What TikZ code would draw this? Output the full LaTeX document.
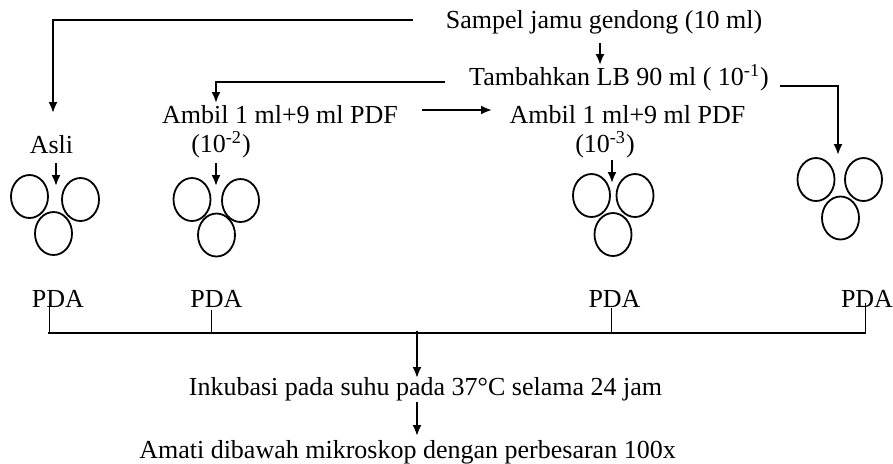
\documentclass[tikz,border=0pt]{standalone}
\usepackage{fontspec}
\setmainfont{Liberation Serif}
\usetikzlibrary{arrows.meta,shapes.geometric}
\begin{document}
\begin{tikzpicture}[x=0.5pt,y=-0.5pt,
  txt/.style={anchor=base,inner sep=0pt,font=\fontsize{13}{15.6}\selectfont},
  line/.style={line width=1pt},
  arr/.style={line width=1pt,-{Latex[length=5.5pt,width=4.5pt]}},
  tick/.style={line width=0.5pt},
  plate/.style={draw,ellipse,line width=0.9pt,inner sep=0pt,minimum width=18.5pt,minimum height=21.5pt}]
\useasboundingbox (0,0) rectangle (893,463);
% texts
\node[txt] (sampel) at (604,28) {Sampel jamu gendong (10 ml)};
\node[txt] (tamb) at (619,85) {Tambahkan LB 90 ml ( 10\textsuperscript{-1})};
\node[txt] (amb1) at (280,123) {Ambil 1 ml+9 ml PDF};
\node[txt] (d2) at (221,152) {(10\textsuperscript{-2})};
\node[txt] (amb2) at (627.5,123) {Ambil 1 ml+9 ml PDF};
\node[txt] (d3) at (605,152) {(10\textsuperscript{-3})};
\node[txt] (asli) at (51.5,153) {Asli};
\node[txt] (pda1) at (58,307) {PDA};
\node[txt] (pda2) at (216.5,307) {PDA};
\node[txt] (pda3) at (614.5,307) {PDA};
\node[txt] (pda4) at (867,307) {PDA};
\node[txt] (inku) at (425.5,395) {Inkubasi pada suhu pada 37°C selama 24 jam};
\node[txt] (amati) at (407.5,458) {Amati dibawah mikroskop dengan perbesaran 100x};
% plates
\node[plate] (g1a) at (29.5,196.5) {};
\node[plate] (g1b) at (80.5,199.5) {};
\node[plate] (g1c) at (53.5,233.5) {};
\node[plate] (g2a) at (192,199.5) {};
\node[plate] (g2b) at (240.5,200.5) {};
\node[plate] (g2c) at (216.5,235) {};
\node[plate] (g3a) at (591.5,195.5) {};
\node[plate] (g3b) at (635,195.5) {};
\node[plate] (g3c) at (613,234.5) {};
\node[plate] (g4a) at (816,179.5) {};
\node[plate] (g4b) at (863.5,179.5) {};
\node[plate] (g4c) at (840.5,218) {};
% coordinates
\coordinate (s0) at (413,19.5);
\coordinate (aslitop) at (53,113);
\coordinate (s1) at (600,43);
\coordinate (t0) at (600,65);
\coordinate (t1) at (445,82);
\coordinate (a1top) at (216,103);
\coordinate (t2) at (780,86);
\coordinate (g4top) at (838,155);
\coordinate (m0) at (422,110);
\coordinate (m1) at (492,110);
\coordinate (k1a) at (56,163); \coordinate (k1b) at (56,186);
\coordinate (k2a) at (216,163); \coordinate (k2b) at (216,186);
\coordinate (k3a) at (612,160); \coordinate (k3b) at (612,183);
\coordinate (bl) at (48,333);
\coordinate (br) at (866,333);
\coordinate (c0) at (417,331);
\coordinate (c1) at (417,378);
\coordinate (c2) at (417,402);
\coordinate (c3) at (417,436);
% connectors
\draw[arr] (s0) -| (aslitop);
\draw[arr] (s1) -- (t0);
\draw[arr] (t1) -| (a1top);
\draw[arr] (t2) -| (g4top);
\draw[arr] (m0) -- (m1);
\draw[arr] (k1a) -- (k1b);
\draw[arr] (k2a) -- (k2b);
\draw[arr] (k3a) -- (k3b);
\draw[line] (bl) -- (br);
\draw[tick] (49,303) -- (49,333);
\draw[tick] (211,310) -- (211,333);
\draw[tick] (611,308) -- (611,333);
\draw[tick] (865,303) -- (865,333);
\draw[arr] (c0) -- (c1);
\draw[arr] (c2) -- (c3);
\end{tikzpicture}
\end{document}
